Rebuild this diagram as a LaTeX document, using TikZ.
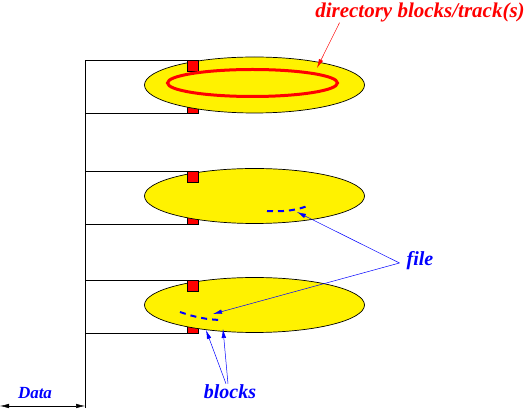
\documentclass[tikz,border=0pt]{standalone}
\usepackage{fontspec}
\setmainfont{Liberation Serif}
\usetikzlibrary{arrows.meta,calc}

\begin{document}
\begin{tikzpicture}[x=1pt, y=-1pt,
    platter/.style={draw, fill=yellow, line width=0.7pt},
    head/.style={draw, fill=red, line width=0.6pt},
    arm/.style={line width=0.7pt},
    lbl/.style={font=\bfseries\itshape\fontsize{20}{23}\selectfont, inner sep=1pt},
    ptr/.style={-{Latex[length=9pt,width=4.5pt]}, line width=0.5pt},
    track/.style={blue, line width=2pt, dash pattern=on 6pt off 5pt}
]
\useasboundingbox (0,0) rectangle (531,411);

% spindle and arms
\draw[arm] (85,408) -- (85,60);
\draw[arm] (85,60) -- (187,60);   \draw[arm] (85,113) -- (187,113);
\draw[arm] (85,171) -- (187,171); \draw[arm] (85,224) -- (187,224);
\draw[arm] (85,280) -- (187,280); \draw[arm] (85,333) -- (187,333);

% platters with heads
\draw[head] (187,102) rectangle (198,113);
\draw[platter] (254.5,85) ellipse [x radius=110pt, y radius=28pt];
\draw[head] (187,60) rectangle (198,71);
\draw[red, line width=3pt] (252.5,83) ellipse [x radius=85pt, y radius=13.5pt];

\draw[head] (187,213) rectangle (198,224);
\draw[platter] (254.5,196) ellipse [x radius=110pt, y radius=27.5pt];
\draw[head] (187,171) rectangle (198,182);
\draw[track] (267,211) .. controls (285,212) and (298,210) .. (310,205);

\draw[head] (187,322) rectangle (198,333);
\draw[platter] (254.5,305) ellipse [x radius=110pt, y radius=27.5pt];
\draw[head] (187,280) rectangle (198,291);
\draw[track] (180,312) .. controls (194,317) and (208,320) .. (223,320);

% labels
\node[lbl, red, font=\bfseries\itshape\fontsize{21}{24}\selectfont] (dir) at (420,12) {directory blocks/track(s)};
\node[lbl, blue] (file) at (420,261) {file};
\node[lbl, blue] (blocks) at (230,392) {blocks};
\node[lbl, blue, font=\bfseries\itshape\fontsize{17}{19}\selectfont] (data) at (35,393) {Data};

\coordinate (ring) at (317,68);
\coordinate (f2) at (297,212);
\coordinate (f3) at (213,314);
\coordinate (b1) at (206,330);
\coordinate (b2) at (223,329);
\coordinate (dl) at (0,406);
\coordinate (dr) at (85,406);

\draw[ptr, red] ($(dir.south west)!0.12!(dir.south east)$) -- (ring);
\draw[ptr, blue] ([shift={(-6pt,-2pt)}]file.west) -- (f2);
\draw[ptr, blue] ([shift={(-6pt,-2pt)}]file.west) -- (f3);
\draw[ptr, blue] ([xshift=-4pt]blocks.north) -- (b1);
\draw[ptr, blue] ([xshift=-2pt]blocks.north) -- (b2);
\draw[{Latex[length=9pt,width=4.5pt]}-{Latex[length=9pt,width=4.5pt]}, line width=0.5pt] (dl) -- (dr);
\end{tikzpicture}
\end{document}
